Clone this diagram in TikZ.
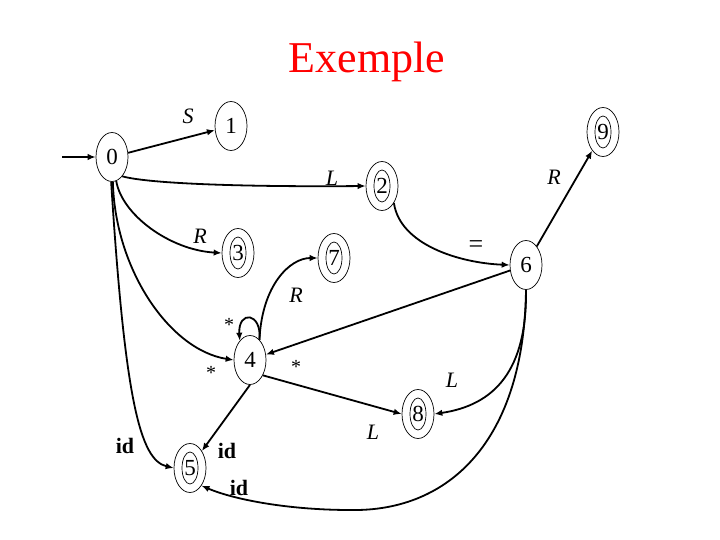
\documentclass[tikz,border=0pt]{standalone}
\usepackage{fontspec}
\setmainfont{Liberation Serif}
\usetikzlibrary{shapes.geometric,arrows.meta}
\begin{document}
\begin{tikzpicture}[x=1pt,y=-1pt,
  st/.style={ellipse,draw,line width=0.7pt,minimum width=32pt,minimum height=49pt,inner sep=0pt,font=\fontsize{23}{23}\selectfont},
  acc/.style={st,path picture={\draw[line width=0.7pt] (path picture bounding box.center) ellipse [x radius=8pt,y radius=16pt];}},
  tr/.style={line width=1.8pt,-{Latex[length=8pt,width=6.5pt]}},
  lab/.style={font=\fontsize{22}{22}\selectfont\itshape,inner sep=0pt},
  ast/.style={font=\fontsize{20}{20}\selectfont,inner sep=0pt},
  eqs/.style={font=\fontsize{26}{26}\selectfont,inner sep=0pt},
  idl/.style={font=\fontsize{22}{22}\selectfont\bfseries,inner sep=0pt}]
\useasboundingbox (0,0) rectangle (720,540);

\node[text=red,font=\fontsize{44}{44}\selectfont,anchor=base] (title) at (367,73) {Exemple};

\node[st]  (n0) at (112,157) {0};
\node[st]  (n1) at (231,126) {1};
\node[acc] (n2) at (382,186) {2};
\node[acc] (n9) at (603,132) {9};
\node[st]  (n6) at (526,265) {6};
\node[acc] (n3) at (238,253) {3};
\node[acc] (n7) at (334,258) {7};
\node[st]  (n4) at (250,360) {4};
\node[acc] (n5) at (190,468) {5};
\node[acc] (n8) at (418,414) {8};

\coordinate (init) at (62,157);
\coordinate (bot) at (350,510);

\draw[tr] (init) -- (n0);
\draw[tr] (n0) -- (n1);
\draw[tr] (n0.-62) .. controls (150,184) and (250,187) .. (n2.west);
\draw[tr] (n0.-80) .. controls (122,215) and (170,250) .. (n3.west);
\draw[tr] (n0.-88) .. controls (115,270) and (170,350) .. (n4.west);
\draw[tr] (n0.-92) .. controls (125,400) and (140,460) .. (n5.west);
\draw[tr] (n4.65) .. controls (262,312) and (238,310) .. (n4.118);
\draw[tr] (n4.65) .. controls (262,285) and (290,258) .. (n7.west);
\draw[tr] (n6) -- (n4);
\draw[tr] (n4.-50) -- (n8.west);
\draw[tr] (n4.south) -- (n5.55);
\draw[tr] (n2.-55) .. controls (400,245) and (460,263) .. (n6.west);
\draw[tr] (n6) -- (n9);
\draw[tr] (n6.south) .. controls (527,370) and (495,405) .. (n8.east);
\draw[tr] (n6.south) .. controls (524,440) and (450,512) .. (bot)
          .. controls (290,510) and (235,500) .. (n5.-57);

\node[lab] (lS)  at (188,116) {S};
\node[lab] (lL1) at (332,178) {L};
\node[lab] (lR1) at (200,236) {R};
\node[lab] (lR2) at (296,295) {R};
\node[ast] (a1)  at (229,325) {*};
\node[ast] (a2)  at (211,373) {*};
\node[ast] (a3)  at (296,367) {*};
\node[lab] (lL2) at (373,432) {L};
\node[lab] (lL3) at (452,380) {L};
\node[eqs] (eq)  at (476,247) {=};
\node[lab] (lR3) at (554,177) {R};
\node[idl] (id1) at (125,446) {id};
\node[idl] (id2) at (227,451) {id};
\node[idl] (id3) at (239,488) {id};
\end{tikzpicture}
\end{document}
